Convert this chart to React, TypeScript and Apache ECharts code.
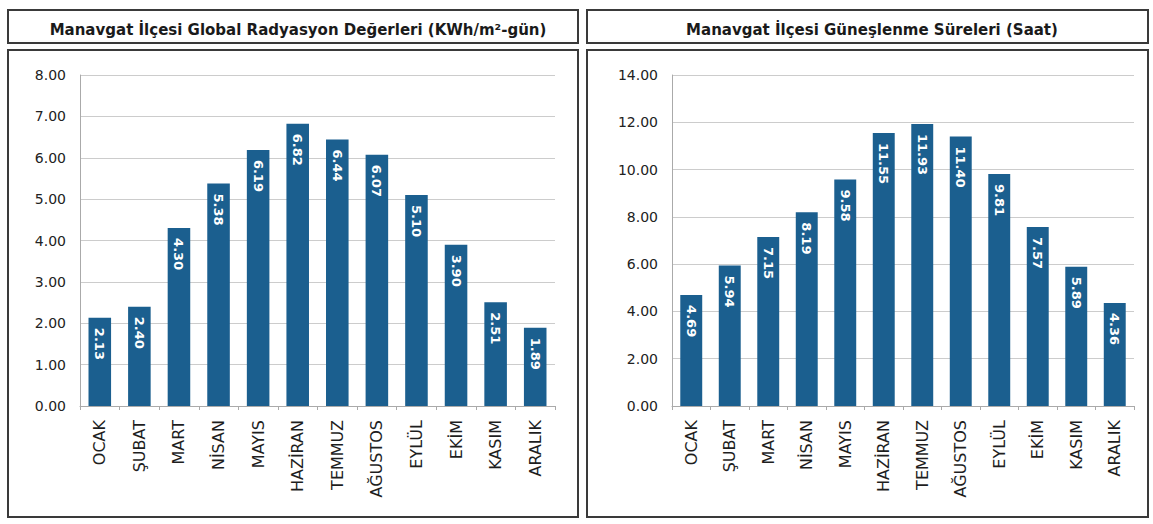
import React, { useEffect, useRef } from "react";
import * as echarts from "echarts";

const categories = ["OCAK", "ŞUBAT", "MART", "NİSAN", "MAYIS", "HAZİRAN", "TEMMUZ", "AĞUSTOS", "EYLÜL", "EKİM", "KASIM", "ARALIK"];
const radiationValues = [2.13, 2.40, 4.30, 5.38, 6.19, 6.82, 6.44, 6.07, 5.10, 3.90, 2.51, 1.89];
const sunshineValues = [4.69, 5.94, 7.15, 8.19, 9.58, 11.55, 11.93, 11.40, 9.81, 7.57, 5.89, 4.36];
const leftTitle = "Manavgat İlçesi Global Radyasyon Değerleri (KWh/m²-gün)";
const rightTitle = "Manavgat İlçesi Güneşlenme Süreleri (Saat)";

const FONT = "DejaVu Sans";
const BAR = "#1b5f8f";

function App() {
  const ref = useRef<HTMLDivElement>(null);
  useEffect(() => {
    if (!ref.current) return;
    const chart = echarts.init(ref.current, null, { renderer: "svg" });
    const xAxisBase = (gridIndex: number) => ({
      type: "category",
      gridIndex,
      data: categories,
      axisLine: { lineStyle: { color: "#aaaaaa", width: 1 } },
      axisTick: { show: true, length: 4, lineStyle: { color: "#aaaaaa" } },
      axisLabel: {
        rotate: 90,
        interval: 0,
        margin: 14,
        color: "#1e1e1e",
        fontFamily: FONT,
        fontSize: 16,
      },
    });
    const yAxisBase = (gridIndex: number, max: number, interval: number) => ({
      type: "value",
      gridIndex,
      min: 0,
      max,
      interval,
      axisLine: { show: true, lineStyle: { color: "#aaaaaa" } },
      axisTick: { show: false },
      splitLine: { lineStyle: { color: "#cccccc" } },
      axisLabel: {
        color: "#222",
        fontFamily: FONT,
        fontSize: 14,
        margin: 14,
        formatter: (v: number) => v.toFixed(2),
      },
    });
    const seriesBase = (idx: number, data: number[]) => ({
      type: "bar",
      xAxisIndex: idx,
      yAxisIndex: idx,
      data,
      barWidth: "57%",
      itemStyle: { color: BAR },
      label: {
        show: true,
        position: "insideTop",
        distance: 10,
        rotate: -90,
        align: "left",
        verticalAlign: "middle",
        color: "#ffffff",
        fontFamily: FONT,
        fontSize: 13,
        fontWeight: "bold",
        formatter: (p: any) => Number(p.value).toFixed(2),
      },
    });
    const box = (x: number, y: number, w: number, h: number) => ({
      type: "rect",
      shape: { x, y, width: w, height: h },
      style: { fill: "none", stroke: "#3a3a3a", lineWidth: 2 },
      silent: true,
    });
    chart.setOption({
      animation: false,
      backgroundColor: "#ffffff",
      title: [
        {
          text: leftTitle,
          left: 293,
          top: 17,
          textAlign: "center",
          textStyle: { fontFamily: FONT, fontSize: 15, fontWeight: "bold", color: "#1a1a1a" },
        },
        {
          text: rightTitle,
          left: 867,
          top: 17,
          textAlign: "center",
          textStyle: { fontFamily: FONT, fontSize: 15, fontWeight: "bold", color: "#1a1a1a" },
        },
      ],
      graphic: [
        box(8, 10, 570, 33),
        box(8, 50, 570, 467),
        box(587, 10, 561, 33),
        box(587, 50, 561, 467),
      ],
      grid: [
        { left: 80, right: 598, top: 75, bottom: 118 },
        { left: 672, right: 19, top: 75, bottom: 118 },
      ],
      xAxis: [xAxisBase(0), xAxisBase(1)],
      yAxis: [yAxisBase(0, 8, 1), yAxisBase(1, 14, 2)],
      series: [seriesBase(0, radiationValues), seriesBase(1, sunshineValues)],
    });
    return () => chart.dispose();
  }, []);
  return (
    <div
      ref={ref}
      style={{ position: "fixed", left: 0, top: 0, width: 1153, height: 524, background: "#fff" }}
    />
  );
}

export default App;
